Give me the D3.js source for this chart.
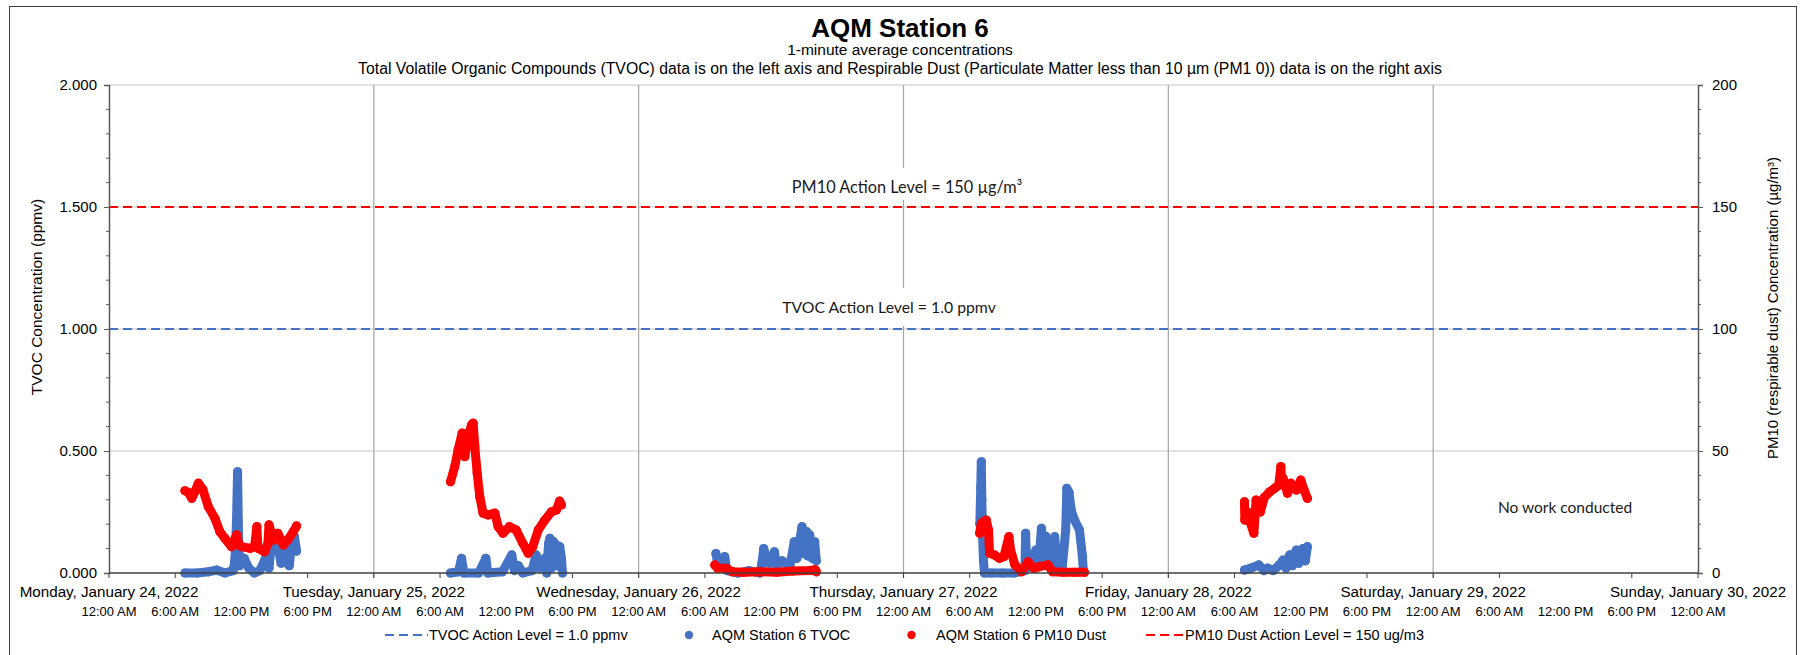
<!DOCTYPE html>
<html><head><meta charset="utf-8">
<script src="https://cdn.jsdelivr.net/npm/d3@7"></script>
<style>
body{margin:0;background:#fff;}
svg{display:block;font-family:"Liberation Sans",Arial,sans-serif;}
</style>
</head><body>
<svg id="chart" width="1801" height="655"></svg>
<script>
// ---------------- data ----------------
const titleText = "AQM Station 6";
const subtitleText = "1-minute average concentrations";
const noteText = "Total Volatile Organic Compounds (TVOC) data is on the left axis and Respirable Dust (Particulate Matter less than 10 µm (PM1 0)) data is on the right axis";
const leftAxisTitle = "TVOC Concentration (ppmv)";
const rightAxisTitle = "PM10 (respirable dust) Concentration (µg/m³)";
const dayDates = ["2022-01-24","2022-01-25","2022-01-26","2022-01-27","2022-01-28","2022-01-29","2022-01-30"];
const dayLabels = ["Monday, January 24, 2022","Tuesday, January 25, 2022","Wednesday, January 26, 2022","Thursday, January 27, 2022","Friday, January 28, 2022","Saturday, January 29, 2022","Sunday, January 30, 2022"];
const timeLabels = ["12:00 AM","6:00 AM","12:00 PM","6:00 PM"];
const leftTicks = [0, 0.5, 1.0, 1.5, 2.0];
const rightTicks = [0, 50, 100, 150, 200];
const tvocActionLevel = 1.0;
const pm10ActionLevel = 150;
const tvocLevelLabel = "TVOC Action Level = 1.0 ppmv";
const pm10LevelLabel = "PM10 Action Level = 150 µg/m³";
const noWorkLabel = "No work conducted";
const legendLabels = ["TVOC Action Level = 1.0 ppmv","AQM Station 6 TVOC","AQM Station 6 PM10 Dust","PM10 Dust Action Level = 150 ug/m3"];

const tvocTimes = [
 "01-24 06:53","01-24 08:00","01-24 09:00","01-24 09:45","01-24 10:30","01-24 11:15","01-24 11:24","01-24 11:33","01-24 11:39","01-24 11:45","01-24 11:51","01-24 12:15","01-24 12:40","01-24 13:10","01-24 13:40","01-24 14:05","01-24 14:20","01-24 14:30","01-24 14:40","01-24 15:00","01-24 15:20","01-24 15:36","01-24 15:50","01-24 16:10","01-24 16:20","01-24 16:30","01-24 16:48","01-24 17:00",
 "01-25 06:57","01-25 07:40","01-25 07:57","01-25 08:10","01-25 09:30","01-25 10:09","01-25 10:20","01-25 11:40","01-25 12:30","01-25 12:45","01-25 13:06","01-25 13:30","01-25 14:20","01-25 14:42","01-25 15:00","01-25 15:30","01-25 15:40","01-25 15:50","01-25 15:57","01-25 16:05","01-25 16:15","01-25 16:24","01-25 16:35","01-25 16:45","01-25 16:51","01-25 17:00","01-25 17:06",
 "01-26 07:00","01-26 07:15","01-26 07:48","01-26 08:00","01-26 09:00","01-26 10:00","01-26 11:00","01-26 11:10","01-26 11:20","01-26 11:35","01-26 11:50","01-26 12:18","01-26 12:30","01-26 13:00","01-26 13:42","01-26 14:06","01-26 14:20","01-26 14:48","01-26 15:00","01-26 15:12","01-26 15:20","01-26 15:30","01-26 15:45","01-26 15:57","01-26 16:06",
 "01-27 06:55","01-27 07:00","01-27 07:03","01-27 07:06","01-27 07:10","01-27 07:15","01-27 07:20","01-27 08:00","01-27 09:00","01-27 10:00","01-27 11:00","01-27 11:04","01-27 11:10","01-27 11:40","01-27 12:00","01-27 12:15","01-27 12:30","01-27 12:45","01-27 12:54","01-27 13:05","01-27 13:12","01-27 13:25","01-27 13:42","01-27 13:55","01-27 14:06","01-27 14:24","01-27 14:42","01-27 14:48","01-27 15:00","01-27 15:12","01-27 15:30","01-27 15:57","01-27 16:12","01-27 16:18",
 "01-28 06:54","01-28 07:30","01-28 08:12","01-28 08:40","01-28 09:00","01-28 09:30","01-28 10:00","01-28 10:24","01-28 10:40","01-28 11:00","01-28 11:15","01-28 11:36","01-28 11:50","01-28 12:12","01-28 12:25","01-28 12:36"
];
const tvocValues = [
 0.0,0.0,0.005,0.012,0.0,0.01,0.05,0.2,0.415,0.12,0.03,0.06,0.02,0.0,0.01,0.05,0.08,0.02,0.1,0.12,0.1,0.04,0.09,0.11,0.03,0.1,0.15,0.09,
 0.0,0.005,0.06,0.0,0.0,0.06,0.0,0.005,0.074,0.01,0.03,0.0,0.01,0.074,0.02,0.06,0.0,0.12,0.142,0.02,0.13,0.12,0.03,0.11,0.108,0.06,0.0,
 0.08,0.02,0.067,0.01,0.0,0.01,0.0,0.04,0.1,0.06,0.04,0.087,0.03,0.05,0.026,0.128,0.06,0.19,0.08,0.17,0.07,0.156,0.06,0.128,0.05,
 0.2,0.35,0.456,0.3,0.15,0.05,0.0,0.0,0.0,0.0,0.01,0.163,0.02,0.06,0.094,0.03,0.183,0.06,0.15,0.04,0.108,0.03,0.149,0.02,0.04,0.03,0.176,0.347,0.33,0.258,0.217,0.176,0.074,0.01,
 0.012,0.02,0.033,0.01,0.02,0.01,0.03,0.053,0.02,0.074,0.03,0.094,0.04,0.10,0.05,0.108
];

const pm10Times = [
 "01-24 06:53","01-24 07:12","01-24 07:30","01-24 07:48","01-24 08:06","01-24 08:30","01-24 09:00","01-24 09:36","01-24 10:03","01-24 10:30","01-24 11:06","01-24 11:34","01-24 11:48","01-24 12:00","01-24 12:48","01-24 13:12","01-24 13:24","01-24 13:30","01-24 14:06","01-24 14:24","01-24 14:30","01-24 14:54","01-24 15:18","01-24 15:48","01-24 16:12","01-24 16:42","01-24 17:00",
 "01-25 06:57","01-25 07:20","01-25 07:38","01-25 08:00","01-25 08:15","01-25 08:30","01-25 08:51","01-25 09:00","01-25 09:09","01-25 09:22","01-25 09:36","01-25 09:54","01-25 10:22","01-25 10:58","01-25 11:16","01-25 11:42","01-25 12:18","01-25 12:54","01-25 13:30","01-25 13:59","01-25 14:24","01-25 14:54","01-25 15:30","01-25 16:06","01-25 16:33","01-25 16:50","01-25 17:00",
 "01-26 06:54","01-26 07:10","01-26 07:57","01-26 08:30","01-26 09:30","01-26 11:00","01-26 12:30","01-26 14:00","01-26 15:30","01-26 16:00","01-26 16:06",
 "01-27 06:54","01-27 07:03","01-27 07:30","01-27 07:42","01-27 07:48","01-27 08:15","01-27 08:42","01-27 09:06","01-27 09:33","01-27 09:42","01-27 10:06","01-27 10:42","01-27 11:18","01-27 11:48","01-27 12:18","01-27 13:06","01-27 13:30","01-27 14:30","01-27 15:30","01-27 16:24",
 "01-28 06:54","01-28 06:56","01-28 07:10","01-28 07:21","01-28 07:45","01-28 07:57","01-28 08:20","01-28 08:42","01-28 09:12","01-28 09:36","01-28 10:00","01-28 10:12","01-28 10:15","01-28 10:24","01-28 10:48","01-28 11:06","01-28 11:36","01-28 12:00","01-28 12:18","01-28 12:36"
];
const pm10Values = [
 33.7,33.0,30.6,33.5,36.8,34.3,27.2,22.4,16.9,14.2,10.8,15.6,11.5,10.8,10.1,11.0,19.0,10.1,8.7,12.0,19.7,13.5,16.3,11.5,13.5,16.9,19.3,
 37.4,43.6,50.4,57.3,47.7,55.2,60.7,61.4,51.8,40.9,31.3,24.5,23.8,24.5,19.0,16.3,19.0,17.6,12.2,8.1,10.8,17.6,21.7,25.1,25.8,29.5,27.9,
 3.3,1.9,1.9,0.5,0.3,0.5,0.3,0.8,1.0,1.3,0.5,
 16.3,20.4,21.7,17.6,8.1,7.4,6.0,6.7,14.9,9.5,3.3,0.5,4.6,1.9,2.6,3.3,0.5,0.3,0.3,0.3,
 29.2,21.7,25.0,21.7,16.3,29.9,25.0,31.0,33.3,34.6,36.0,43.6,38.7,38.7,32.7,36.8,34.0,38.1,34.0,30.6
];

// ---------------- setup ----------------
const parse = d3.timeParse("%Y-%m-%d %H:%M");
const pt = s => parse("2022-" + s);
const pd = d3.timeParse("%Y-%m-%d");
const plot = {l: 109, r: 1698, t: 85, b: 573};
const svg = d3.select("#chart");
const blue = "#4472C4", red = "#FF0000";

const x = d3.scaleTime().domain([pd(dayDates[0]), pd(dayDates[dayDates.length-1])]).range([plot.l, plot.r]);
const yL = d3.scaleLinear().domain([0, 2]).range([plot.b, plot.t]);
const yR = d3.scaleLinear().domain([0, 200]).range([plot.b, plot.t]);

// chart border
svg.append("rect").attr("x", 9.5).attr("y", 6.5).attr("width", 1787).attr("height", 700)
  .attr("fill", "none").attr("stroke", "#404040").attr("stroke-width", 1);

// horizontal gridlines
svg.append("g").selectAll("line").data(leftTicks.filter(d => d > 0)).join("line")
  .attr("x1", plot.l).attr("x2", plot.r)
  .attr("y1", d => yL(d)).attr("y2", d => yL(d))
  .attr("stroke", "#d9d9d9").attr("stroke-width", 1.5);

// vertical day gridlines
const dayDatesParsed = dayDates.map(pd);
svg.append("g").selectAll("line").data(dayDatesParsed.slice(1, -1)).join("line")
  .attr("x1", d => x(d)).attr("x2", d => x(d))
  .attr("y1", plot.t).attr("y2", plot.b + 5)
  .attr("stroke", "#a6a6a6").attr("stroke-width", 1.2);

// action level lines
svg.append("line").attr("x1", plot.l).attr("x2", plot.r)
  .attr("y1", yL(tvocActionLevel)).attr("y2", yL(tvocActionLevel))
  .attr("stroke", blue).attr("stroke-width", 2.2).attr("stroke-dasharray", "9,5");
svg.append("line").attr("x1", plot.l).attr("x2", plot.r)
  .attr("y1", yR(pm10ActionLevel)).attr("y2", yR(pm10ActionLevel))
  .attr("stroke", red).attr("stroke-width", 2.2).attr("stroke-dasharray", "9,5");

// annotation labels with white boxes
const annFont = "Lato, 'Open Sans', sans-serif";
function boxedLabel(text, cx, cy, y0, y1, size) {
  const g = svg.append("g");
  const t = g.append("text").attr("x", cx).attr("y", cy).attr("text-anchor", "middle")
    .attr("dominant-baseline", "central").attr("font-family", annFont).attr("font-size", size)
    .attr("fill", "#1a1a1a").text(text);
  const bb = t.node().getBBox();
  g.insert("rect", "text").attr("x", bb.x - 6).attr("y", y0).attr("width", bb.width + 12)
    .attr("height", y1 - y0).attr("fill", "#fff");
}
boxedLabel(pm10LevelLabel, 907, 186, 168, 200, 16.3);
boxedLabel(tvocLevelLabel, 889, 306, 288, 326, 15.8);
svg.append("text").attr("x", 1565).attr("y", 507).attr("text-anchor", "middle")
  .attr("dominant-baseline", "central").attr("font-family", annFont).attr("font-size", 15.5)
  .attr("fill", "#1a1a1a").text(noWorkLabel);

// series
function buildSeries(times, values) {
  const pts = times.map((t, i) => ({t: pt(t), v: values[i]}));
  const segs = [];
  let cur = [];
  pts.forEach((p, i) => {
    if (i > 0 && (p.t - pts[i-1].t) > 3 * 3600e3) { segs.push(cur); cur = []; }
    cur.push(p);
  });
  segs.push(cur);
  return {pts, segs};
}
function drawSeries(series, yScale, color) {
  const g = svg.append("g");
  const line = d3.line().x(d => x(d.t)).y(d => yScale(d.v));
  g.selectAll("path").data(series.segs).join("path")
    .attr("d", line).attr("fill", "none").attr("stroke", color)
    .attr("stroke-width", 9).attr("stroke-linecap", "round").attr("stroke-linejoin", "round");
  g.selectAll("circle").data(series.pts).join("circle")
    .attr("cx", d => x(d.t)).attr("cy", d => yScale(d.v)).attr("r", 4.6).attr("fill", color);
}
drawSeries(buildSeries(tvocTimes, tvocValues), yL, blue);
drawSeries(buildSeries(pm10Times, pm10Values), yR, red);

// axes
const axisColor = "#595959";
const gL = svg.append("g").attr("transform", `translate(${plot.l},0)`)
  .call(d3.axisLeft(yL).tickValues(leftTicks).tickFormat(d3.format(".3f")).tickSize(5).tickPadding(7));
svg.append("g").attr("transform", `translate(${plot.l},0)`).selectAll("line")
  .data(d3.range(0, 2.0001, 0.1).filter(v => Math.abs(v*2 - Math.round(v*2)) > 1e-6)).join("line")
  .attr("x1", -3).attr("x2", 0).attr("y1", d => yL(d)).attr("y2", d => yL(d)).attr("stroke", axisColor);
const gR = svg.append("g").attr("transform", `translate(${plot.r},0)`)
  .call(d3.axisRight(yR).tickValues(rightTicks).tickFormat(d3.format("d")).tickSize(5).tickPadding(9));
svg.append("g").attr("transform", `translate(${plot.r},0)`).selectAll("line")
  .data(d3.range(0, 200.001, 10).filter(v => v % 50 !== 0)).join("line")
  .attr("x1", 0).attr("x2", 3).attr("y1", d => yR(d)).attr("y2", d => yR(d)).attr("stroke", axisColor);
[gL, gR].forEach(g => {
  g.select(".domain").attr("stroke", axisColor).attr("stroke-width", 1.5);
  g.selectAll(".tick line").attr("stroke", axisColor);
  g.selectAll(".tick text").attr("font-size", 15).attr("fill", "#000").attr("font-family", "'Liberation Sans', Arial, sans-serif");
});

// bottom axis
const sixHourTicks = d3.timeHour.every(6).range(x.domain()[0], d3.timeHour.offset(x.domain()[1], 1));
const gB = svg.append("g").attr("transform", `translate(0,${plot.b})`);
gB.append("line").attr("x1", plot.l).attr("x2", plot.r).attr("stroke", "#404040").attr("stroke-width", 1.5);
gB.selectAll("line.tk").data(sixHourTicks.filter(d => d.getHours() % 12 === 6 || d.getHours() === 0)).join("line")
  .attr("class", "tk").attr("x1", d => x(d)).attr("x2", d => x(d)).attr("y1", 0).attr("y2", 5)
  .attr("stroke", "#404040");
gB.selectAll("text.tl").data(sixHourTicks).join("text").attr("class", "tl")
  .attr("x", d => x(d)).attr("y", 38).attr("text-anchor", "middle").attr("dominant-baseline", "central")
  .attr("font-size", 13).text(d => timeLabels[d.getHours() / 6]);
gB.selectAll("text.dl").data(dayDatesParsed).join("text").attr("class", "dl")
  .attr("x", d => x(d)).attr("y", 18.5).attr("text-anchor", "middle").attr("dominant-baseline", "central")
  .attr("font-size", 15.2).text((d, i) => dayLabels[i]);

// axis titles
svg.append("text").attr("transform", "translate(36,297) rotate(-90)").attr("text-anchor", "middle")
  .attr("dominant-baseline", "central").attr("font-size", 15.5).text(leftAxisTitle);
svg.append("text").attr("transform", "translate(1772,308) rotate(-90)").attr("text-anchor", "middle")
  .attr("dominant-baseline", "central").attr("font-size", 15).text(rightAxisTitle);

// titles
svg.append("text").attr("x", 900).attr("y", 37).attr("text-anchor", "middle")
  .attr("font-size", 26).attr("font-weight", "bold").text(titleText);
svg.append("text").attr("x", 900).attr("y", 55).attr("text-anchor", "middle")
  .attr("font-size", 15.5).text(subtitleText);
svg.append("text").attr("x", 900).attr("y", 74).attr("text-anchor", "middle")
  .attr("font-size", 15.8).text(noteText);

// legend
const lg = svg.append("g").attr("font-size", 14.5);
const ly = 635;
lg.append("line").attr("x1", 385).attr("x2", 428).attr("y1", ly).attr("y2", ly)
  .attr("stroke", blue).attr("stroke-width", 2.2).attr("stroke-dasharray", "9,5");
lg.append("text").attr("x", 429).attr("y", ly).attr("dominant-baseline", "central").text(legendLabels[0]);
lg.append("circle").attr("cx", 689).attr("cy", ly).attr("r", 4.2).attr("fill", blue);
lg.append("text").attr("x", 712).attr("y", ly).attr("dominant-baseline", "central").text(legendLabels[1]);
lg.append("circle").attr("cx", 911.5).attr("cy", ly).attr("r", 4.2).attr("fill", red);
lg.append("text").attr("x", 936).attr("y", ly).attr("dominant-baseline", "central").text(legendLabels[2]);
lg.append("line").attr("x1", 1146).attr("x2", 1185).attr("y1", ly).attr("y2", ly)
  .attr("stroke", red).attr("stroke-width", 2.2).attr("stroke-dasharray", "9,5");
lg.append("text").attr("x", 1185).attr("y", ly).attr("dominant-baseline", "central").text(legendLabels[3]);
</script>
</body></html>
